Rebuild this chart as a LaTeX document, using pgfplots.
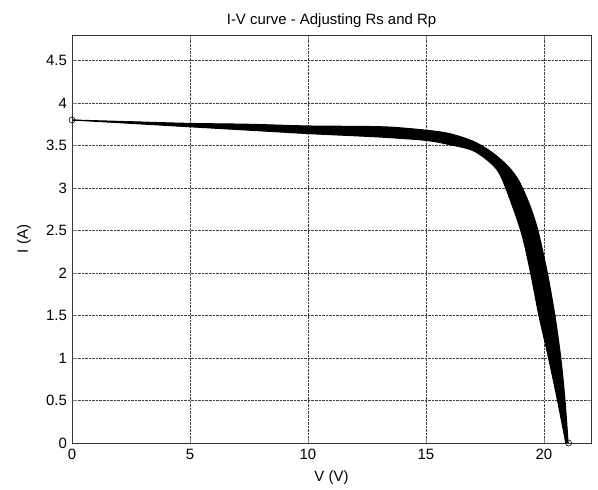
\documentclass[border=0pt]{standalone}
\usepackage{pgfplots}
\pgfplotsset{compat=1.18}
\usepgfplotslibrary{fillbetween}
\usepackage{fontspec}
\setmainfont{Liberation Sans}

\begin{document}
\fontsize{15}{17}\selectfont
\begin{tikzpicture}
\begin{axis}[
    scale only axis,
    width=519bp, height=408bp,
    xmin=0, xmax=22,
    ymin=0, ymax=4.8,
    xtick={0,5,10,15,20},
    ytick={0,0.5,1,1.5,2,2.5,3,3.5,4,4.5},
    tick align=inside,
    major tick length=5bp,
    xmajorgrids=true, ymajorgrids=true,
    grid style={densely dotted, black!75, line width=0.6pt},
    axis line style={black!80, line width=0.8pt},
    title={I-V curve - Adjusting Rs and Rp},
    title style={yshift=-4bp},
    xlabel={V (V)},
    ylabel={I (A)},
    xlabel style={yshift=-1bp},
    ylabel style={yshift=5bp},
    xticklabel style={yshift=-1bp},
    /pgf/number format/assume math mode=true,
    ticklabel style={font=\fontsize{15}{17}\selectfont},
    every axis label/.append style={font=\fontsize{15}{17}\selectfont},
    title style={font=\fontsize{15}{17}\selectfont},
]
% outer edge of the family of curves
\addplot[name path=upper, black, line width=1pt, smooth, tension=0.5] coordinates {
    (0,3.80)(2.5,3.78)(5,3.76)(7.5,3.75)(10,3.73)(13.2,3.72)(15,3.68)
    (16,3.64)(17,3.55)(17.8,3.42)(18.5,3.25)(18.95,3.08)(19.4,2.80)
    (19.75,2.50)(20.15,2.00)(20.47,1.50)(20.72,1.00)(20.90,0.50)(21.03,0.0)
};
% inner edge of the family of curves
\addplot[name path=lower, black, line width=1pt, smooth, tension=0.5] coordinates {
    (0,3.80)(2.5,3.76)(5,3.72)(7.5,3.68)(10,3.64)(13,3.60)(15,3.56)
    (16,3.51)(17,3.44)(17.8,3.28)(18.24,3.10)(19.02,2.50)(19.44,2.00)
    (19.79,1.50)(20.20,1.00)(20.58,0.50)(20.93,0.0)
};
\addplot[black] fill between[of=upper and lower];
% end points
\addplot[only marks, mark=o, mark size=3bp, black, line width=0.6pt] coordinates {
    (0,3.80)(21.05,0.0)
};
\end{axis}
\path[use as bounding box] (-72bp,-45bp) rectangle (526bp,443bp);
\end{tikzpicture}
\end{document}
